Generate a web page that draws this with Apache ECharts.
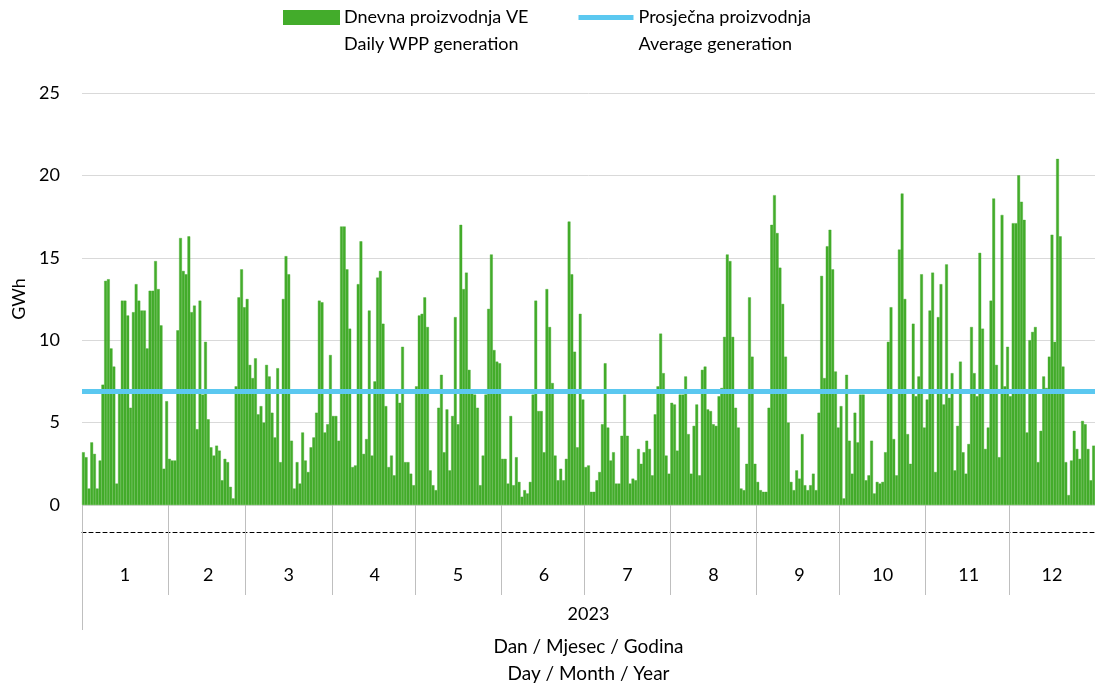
<!DOCTYPE html>
<html>
<head>
<meta charset="utf-8">
<script src="https://cdn.jsdelivr.net/npm/echarts@6/dist/echarts.min.js"></script>
<style>
html,body{margin:0;padding:0;background:#ffffff;}
#chart{width:1095px;height:686px;}
</style>
</head>
<body>
<div id="chart"></div>
<script>
// ---- data ----
const year = '2023';
const monthLabels = ['1','2','3','4','5','6','7','8','9','10','11','12'];
const seriesDailyName = 'Dnevna proizvodnja VE\nDaily WPP generation';
const seriesAvgName = 'Prosječna proizvodnja\nAverage generation';
const xAxisTitle = 'Dan / Mjesec / Godina\nDay / Month / Year';
const yAxisTitle = 'GWh';
const yTicks = [0, 5, 10, 15, 20, 25];
const averageGeneration = 6.9;

const jan = [3.2, 2.9, 1.0, 3.8, 3.1, 1.0, 2.7, 7.3, 13.6, 13.7, 9.5, 8.4, 1.3, 7.0, 12.4, 12.4, 11.5, 5.9, 11.7, 13.4, 12.4, 11.8, 11.8, 9.5, 13.0, 13.0, 14.8, 13.1, 10.9, 2.2, 6.3];
const feb = [2.8, 2.7, 2.7, 10.6, 16.2, 14.2, 14.0, 16.3, 11.7, 12.1, 4.6, 12.4, 6.7, 9.9, 5.2, 3.5, 3.0, 3.6, 3.3, 1.5, 2.8, 2.6, 1.1, 0.4, 7.2, 12.6, 14.3, 12.0];
const mar = [12.5, 8.5, 7.7, 8.9, 5.5, 6.0, 5.0, 8.5, 7.8, 5.6, 4.1, 8.3, 2.6, 12.5, 15.1, 14.0, 3.9, 1.0, 2.6, 1.3, 4.4, 2.7, 2.0, 3.5, 4.1, 5.6, 12.4, 12.3, 4.4, 4.9, 9.1];
const apr = [5.4, 5.4, 3.9, 16.9, 16.9, 14.3, 10.7, 2.3, 2.4, 13.4, 16.0, 3.1, 4.0, 11.8, 3.0, 7.5, 13.8, 14.2, 11.0, 6.0, 2.3, 3.0, 1.8, 6.8, 6.2, 9.6, 2.6, 2.6, 1.9, 1.2];
const may = [7.2, 11.5, 11.6, 12.6, 10.8, 2.1, 1.2, 0.9, 5.9, 7.9, 3.2, 5.8, 2.1, 5.4, 11.4, 4.9, 17.0, 13.1, 14.1, 8.2, 6.8, 6.7, 5.9, 1.2, 3.0, 6.7, 11.9, 15.2, 9.4, 8.7, 8.6];
const jun = [2.8, 2.8, 1.3, 5.4, 1.2, 2.9, 1.4, 0.5, 0.9, 0.7, 1.4, 6.7, 12.4, 5.7, 5.7, 3.2, 13.1, 10.8, 7.4, 3.0, 1.5, 2.2, 1.5, 2.8, 17.2, 14.0, 9.3, 3.5, 11.6, 6.4];
const jul = [2.3, 2.4, 0.8, 0.8, 1.5, 2.0, 4.9, 8.6, 4.7, 2.7, 3.2, 1.3, 1.3, 4.2, 6.7, 4.2, 1.3, 1.6, 1.5, 3.4, 2.5, 3.2, 3.9, 3.4, 1.8, 5.5, 7.2, 10.4, 8.0, 3.0, 1.9];
const aug = [6.2, 6.1, 3.3, 6.7, 6.7, 7.8, 4.3, 1.9, 4.8, 6.1, 1.8, 8.2, 8.4, 5.8, 5.7, 4.9, 4.8, 6.6, 7.1, 10.2, 15.2, 14.8, 10.2, 5.9, 4.7, 1.0, 0.9, 2.5, 12.6, 9.0, 2.5];
const sep = [1.4, 0.9, 0.8, 0.8, 5.9, 17.0, 18.8, 16.5, 14.4, 12.2, 9.0, 5.0, 1.4, 0.9, 2.1, 1.6, 4.3, 1.2, 0.9, 1.2, 1.9, 0.9, 5.6, 13.9, 7.7, 15.7, 16.7, 14.3, 8.1, 4.7];
const oct = [6.0, 0.4, 7.9, 3.9, 1.9, 5.6, 3.8, 6.7, 6.7, 1.5, 1.8, 3.9, 0.7, 1.4, 1.3, 1.4, 3.2, 9.9, 12.0, 4.0, 1.8, 15.5, 18.9, 12.5, 4.3, 2.5, 11.0, 6.6, 7.8, 14.0, 4.7];
const nov = [6.4, 11.8, 14.1, 2.0, 11.4, 13.4, 6.1, 14.6, 6.5, 8.0, 2.1, 4.8, 8.7, 3.2, 1.9, 3.7, 10.8, 8.0, 6.6, 15.3, 10.7, 3.4, 4.7, 12.4, 18.6, 8.5, 2.9, 17.6, 7.2, 9.6];
const dec = [6.6, 17.1, 17.1, 20.0, 18.4, 17.3, 4.4, 10.0, 10.5, 10.8, 2.6, 4.5, 7.8, 7.1, 9.0, 16.4, 9.9, 21.0, 16.3, 8.4, 2.6, 0.6, 2.7, 4.5, 3.4, 2.8, 5.1, 4.9, 3.4, 1.5, 3.6];

const monthValues = [jan, feb, mar, apr, may, jun, jul, aug, sep, oct, nov, dec];

// ---- build category axis from the monthly arrays ----
const days = [];
const values = [];
const monthStart = new Set();
const monthMid = {};
monthValues.forEach(function (arr, m) {
  monthStart.add(days.length);
  monthMid[days.length + Math.floor(arr.length / 2)] = monthLabels[m];
  arr.forEach(function (v, d) {
    days.push(year + '-' + (m + 1) + '-' + (d + 1));
    values.push(v);
  });
});

const FONT = 'Lato, "Open Sans", sans-serif';
const TXT = '#000000';
const GREEN = '#43ac2b';
const BLUE = '#5bc8f0';

const chart = echarts.init(document.getElementById('chart'), null, {renderer: 'canvas'});
chart.setOption({
  animation: false,
  backgroundColor: '#ffffff',
  textStyle: {fontFamily: FONT},
  legend: {
    top: -28,
    left: 278,
    itemWidth: 55,
    itemHeight: 13,
    itemGap: 50,
    data: [
      {name: seriesDailyName, icon: 'rect'},
      {name: seriesAvgName, icon: 'path://M0,0 L55,0 L55,5 L0,5 Z', itemStyle: {color: BLUE}}
    ],
    formatter: function (name) { return ' \n' + name; },
    textStyle: {fontFamily: FONT, fontSize: 18, color: TXT, lineHeight: 27}
  },
  grid: {left: 82, right: 0, top: 93, bottom: 181, containLabel: false, outerBoundsMode: 'none'},
  xAxis: [
    {
      type: 'category',
      data: days,
      boundaryGap: true,
      axisLine: {show: false},
      axisTick: {
        show: true,
        length: 90,
        interval: function (i) { return monthStart.has(i) && i > 0; },
        lineStyle: {color: '#bfbfbf', width: 1}
      },
      axisLabel: {
        show: true,
        interval: function (i) { return monthMid[i] !== undefined; },
        formatter: function (v, i) { return monthMid[i] || ''; },
        margin: 61,
        fontSize: 18,
        color: TXT,
        fontFamily: FONT
      },
      splitLine: {show: false}
    },
    {
      type: 'category',
      data: [year],
      boundaryGap: true,
      position: 'bottom',
      axisLine: {show: false},
      axisTick: {show: true, length: 125, interval: 0, lineStyle: {color: '#bfbfbf', width: 1}},
      axisLabel: {show: true, margin: 100, fontSize: 18, color: TXT, fontFamily: FONT},
      name: xAxisTitle,
      nameLocation: 'middle',
      nameGap: 128,
      nameTextStyle: {fontSize: 19, color: TXT, lineHeight: 27, fontFamily: FONT}
    },
    {
      type: 'category',
      data: [''],
      position: 'bottom',
      offset: 27,
      axisLine: {show: true, lineStyle: {color: '#000000', width: 1, type: [4, 3]}},
      axisTick: {show: false},
      axisLabel: {show: false}
    }
  ],
  yAxis: {
    type: 'value',
    min: yTicks[0],
    max: yTicks[yTicks.length - 1],
    interval: yTicks[1] - yTicks[0],
    axisLine: {show: false},
    axisTick: {show: false},
    axisLabel: {fontSize: 18, color: TXT, margin: 22, fontFamily: FONT},
    splitLine: {lineStyle: {color: '#d9d9d9', width: 1}},
    name: yAxisTitle,
    nameLocation: 'middle',
    nameRotate: 90,
    nameGap: 54,
    nameTextStyle: {fontSize: 18, color: TXT, fontFamily: FONT}
  },
  series: [
    {
      name: seriesDailyName,
      type: 'bar',
      xAxisIndex: 0,
      data: values,
      barCategoryGap: '0%',
      itemStyle: {color: GREEN, borderColor: GREEN, borderWidth: 0.4}
    },
    {
      name: seriesAvgName,
      type: 'line',
      xAxisIndex: 0,
      data: [],
      symbol: 'none',
      itemStyle: {color: BLUE},
      lineStyle: {color: BLUE, width: 5},
      markLine: {
        silent: true,
        symbol: ['none', 'none'],
        label: {show: false},
        lineStyle: {color: BLUE, width: 5, type: 'solid'},
        data: [{yAxis: averageGeneration}]
      }
    }
  ]
});
</script>
</body>
</html>
